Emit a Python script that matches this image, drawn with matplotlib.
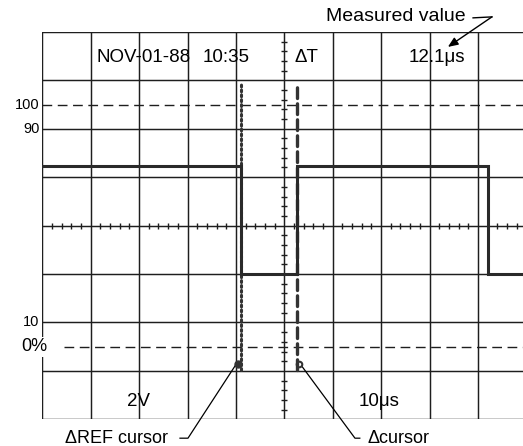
import matplotlib
matplotlib.use("Agg")
import matplotlib.pyplot as plt
import numpy as np

plt.rcParams['font.family'] = ['Liberation Sans', 'DejaVu Sans']

# ---- data (screen divisions: x 0..10, y -4..4) ----
signal_t = [0.0, 4.10, 4.10, 5.26, 5.26, 9.21, 9.21, 9.95]
signal_v = [1.23, 1.23, -1.0, -1.0, 1.23, 1.23, -1.0, -1.0]
ref_cursor_x = 4.10
delta_cursor_x = 5.26
cursor_span = [-2.98, 2.97]
pct_levels = [2.5, -2.5]          # 100 % and 0 % dashed reference lines
pct_labels_left = [("100", 2.5), ("90", 2.0), ("10", -2.0)]
header_date = "NOV-01-88"
header_time = "10:35"
header_delta = "ΔT"
header_value = "12.1μs"
volts_div = "2V"
time_div = "10μs"

W, H = 523, 446
fig = plt.figure(figsize=(W / 100, H / 100), dpi=100)
x0, ytop, ybot, div = 42.3, 31.9, 419.3, 48.4
ax = fig.add_axes([x0 / W, (H - ybot) / H, 10 * div / W, (ybot - ytop) / H])
ax.set_xlim(0, 10)
ax.set_ylim(-4, 4)
ax.axis('off')

gc = '#1e1e1e'
glw = 1.05
# grid
for i in range(0, 11):
    ax.plot([i, i], [-4, 4], color=gc, lw=glw, solid_capstyle='butt', zorder=1)
for j in range(-4, 5):
    ax.plot([0, 10], [j, j], color=gc, lw=glw, zorder=1)

# minor ticks on center axes
minor = [k / 5 for k in range(0, 51) if k % 5 != 0]
ax.plot(minor, [0] * len(minor), ls='none', marker='|', ms=4.5, mew=1.0, color=gc, zorder=2)
minor_y = [k / 5 - 4 for k in range(0, 41) if k % 5 != 0]
ax.plot([5] * len(minor_y), minor_y, ls='none', marker='_', ms=4.5, mew=1.0, color=gc, zorder=2)

# dashed 100% / 0% lines
ax.plot([0, 10], [pct_levels[0]] * 2, color=gc, lw=1.0, ls=(0, (7, 4)), zorder=1)
ax.plot([0.45, 10], [pct_levels[1]] * 2, color=gc, lw=1.0, ls=(0, (7, 4)), zorder=1)

# signal
ax.plot(signal_t, signal_v, color='#2a2a2a', lw=2.2, solid_joinstyle='miter', zorder=4)

# cursors
ax.plot([ref_cursor_x] * 2, cursor_span, color='#333333', lw=2.2, ls=(0, (0.6, 1.0)),
        dash_capstyle='round', zorder=3)
ax.plot([delta_cursor_x] * 2, cursor_span, color='#333333', lw=2.4, ls=(0, (3.2, 1.6)),
        dash_capstyle='round', zorder=3)
ax.plot([ref_cursor_x - 0.05], [-2.86], marker='o', ms=5, color='#333333', zorder=3)
ax.plot([delta_cursor_x + 0.05], [-2.86], marker='o', ms=4, mfc='none', mec='#333333', mew=1.5, zorder=3)

# header texts
fs = 13.5
ax.text(1.12, 3.47, header_date, fontsize=fs, ha='left', va='center', zorder=6)
ax.text(3.32, 3.47, header_time, fontsize=fs, ha='left', va='center', zorder=6)
ax.text(5.22, 3.47, header_delta, fontsize=fs, ha='left', va='center', zorder=6)
ax.text(7.56, 3.47, header_value, fontsize=fs, ha='left', va='center', zorder=6)

ax.text(1.98, -3.63, volts_div, fontsize=fs, ha='center', va='center', zorder=6)
ax.text(6.95, -3.63, time_div, fontsize=fs, ha='center', va='center', zorder=6)

# left percentage labels
for lab, yv in pct_labels_left:
    ax.text(-0.06, yv, lab, fontsize=10.5, ha='right', va='center', clip_on=False)
ax.text(-0.44, -2.5, "0%", fontsize=13, ha='left', va='center', clip_on=False,
        bbox=dict(facecolor='white', edgecolor='none', pad=1.0), zorder=6)

# annotations outside
ax.text(7.30, 4.31, "Measured value", fontsize=14, ha='center', va='center', clip_on=False)
ax.plot([8.90, 9.29], [4.29, 4.31], color='black', lw=1.0, clip_on=False)
ax.annotate("", xy=(8.38, 3.69), xytext=(9.29, 4.31), annotation_clip=False,
            arrowprops=dict(arrowstyle='-|>,head_length=0.6,head_width=0.25', color='black',
                            lw=1.0, shrinkA=0, shrinkB=0))

ax.text(0.47, -4.39, "ΔREF cursor", fontsize=13, ha='left', va='center', clip_on=False)
ax.plot([2.845, 3.01, 4.02], [-4.39, -4.39, -2.84], color='black', lw=0.9, clip_on=False)
ax.text(6.72, -4.39, "Δcursor", fontsize=13, ha='left', va='center', clip_on=False)
ax.plot([6.56, 6.46, 5.36], [-4.39, -4.39, -2.90], color='black', lw=0.9, clip_on=False)

fig.savefig("out.png", dpi=100)
